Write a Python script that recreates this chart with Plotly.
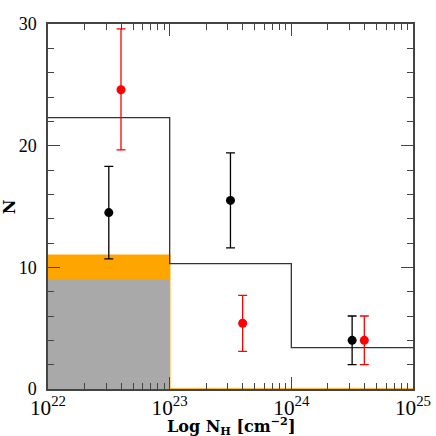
import plotly.graph_objects as go

# histogram (step line), bin edges in N_H
bin_edges = [1e22, 1e23, 1e24, 1e25]
hist_counts = [22.3, 10.3, 3.4]

# filled bars in the first bin
orange_counts = [11.0, 0.0, 0.0]
gray_counts = [9.0, 0.0, 0.0]

# black points with errors
black_x = [3.16e22, 3.16e23, 3.16e24]
black_y = [14.5, 15.5, 4.0]
black_up = [3.8, 3.9, 2.0]
black_dn = [3.8, 3.9, 2.0]

# red points with errors
red_x = [3.98e22, 3.98e23, 3.98e24]
red_y = [24.6, 5.4, 4.0]
red_up = [5.0, 2.3, 2.0]
red_dn = [4.95, 2.3, 2.0]

# minor tick positions
x_minor = [float(m) * 10.0 ** e for e in (22, 23, 24) for m in range(2, 10)]
y_minor = [v for v in range(2, 30, 2) if v % 10]

fig = go.Figure()

fig.add_trace(go.Scatter(
    x=bin_edges, y=orange_counts + [orange_counts[-1]],
    mode="lines", line=dict(shape="hv", color="#FFA500", width=1.5),
    fill="tozeroy", fillcolor="#FFA500", showlegend=False))
fig.add_trace(go.Scatter(
    x=bin_edges[:2], y=[gray_counts[0], gray_counts[0]],
    mode="lines", line=dict(width=0, color="#A9A9A9"),
    fill="tozeroy", fillcolor="#A9A9A9", showlegend=False))
fig.add_trace(go.Scatter(
    x=bin_edges, y=hist_counts + [hist_counts[-1]],
    mode="lines", line=dict(shape="hv", color="#333333", width=1.3),
    showlegend=False))

fig.add_trace(go.Scatter(
    x=black_x, y=black_y, mode="markers",
    marker=dict(color="black", size=9),
    error_y=dict(type="data", symmetric=False, array=black_up, arrayminus=black_dn,
                 color="black", thickness=1.3, width=4.5),
    showlegend=False))
fig.add_trace(go.Scatter(
    x=red_x, y=red_y, mode="markers",
    marker=dict(color="red", size=9),
    error_y=dict(type="data", symmetric=False, array=red_up, arrayminus=red_dn,
                 color="red", thickness=1.3, width=4.5),
    showlegend=False))

# invisible trace so the overlay axes (minor ticks) get drawn
fig.add_trace(go.Scatter(x=[1e22], y=[0], xaxis="x2", yaxis="y2", mode="markers",
                         marker=dict(opacity=0), showlegend=False, hoverinfo="skip"))

font = dict(family="Liberation Serif", size=17, color="black")
title_font = dict(family="DejaVu Serif", size=16, color="black")
tick = dict(ticks="inside", tickcolor="#444", tickwidth=1.2, showgrid=False,
            zeroline=False, automargin=False)

fig.update_layout(
    xaxis=dict(type="log", range=[22, 25],
               tickmode="linear", tick0=0, dtick=1, exponentformat="power",
               ticklen=12, mirror="allticks", showline=True, linecolor="#444",
               linewidth=1.5, tickfont=font, **tick),
    yaxis=dict(range=[0, 30], tickmode="linear", tick0=0, dtick=10,
               ticklen=12, mirror="allticks", showline=True, linecolor="#444",
               linewidth=1.5, tickfont=dict(font, size=18), ticklabelstandoff=6, **tick),
    xaxis2=dict(type="log", range=[22, 25], overlaying="x", side="bottom",
                tickmode="array", tickvals=x_minor, ticklen=6, mirror="ticks",
                showticklabels=False, showline=False, **tick),
    yaxis2=dict(range=[0, 30], overlaying="y", side="left",
                tickmode="array", tickvals=y_minor, ticklen=6, mirror="ticks",
                showticklabels=False, showline=False, **tick),
)

fig.add_annotation(
    text="<b>Log N<sub>H</sub> [cm<sup>−2</sup>]</b>", font=title_font,
    xref="paper", yref="paper", x=0.5, y=-0.1, xanchor="center", yanchor="middle",
    showarrow=False)
fig.add_annotation(
    text="<b>N</b>", font=title_font, textangle=-90,
    xref="paper", yref="paper", x=-0.105, y=0.5, xanchor="center", yanchor="middle",
    showarrow=False)

fig.update_layout(
    width=436, height=436,
    margin=dict(l=47.5, r=23.3, t=24, b=46.7),
    plot_bgcolor="white", paper_bgcolor="white",
)

# drop the default 8px page margin so the figure fills the window
fig.write_html("out.html", config={"displayModeBar": False},
               post_script="document.body.style.margin='0';")
